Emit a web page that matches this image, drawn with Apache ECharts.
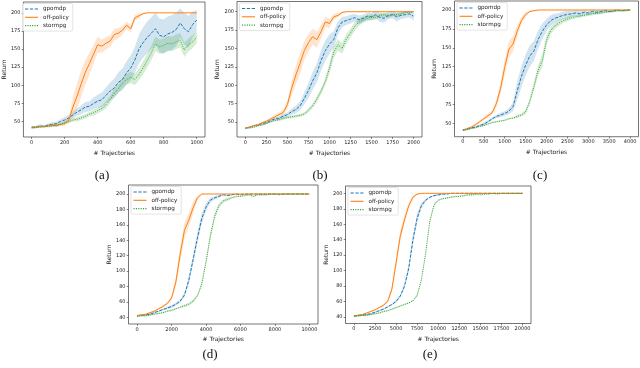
<!DOCTYPE html>
<html><head><meta charset="utf-8">
<script src="https://cdn.jsdelivr.net/npm/echarts@6/dist/echarts.min.js"></script>
<style>html,body{margin:0;padding:0;background:#fff}#c{width:640px;height:368px}</style>
</head><body><div id="c"></div>
<script>
// ---------------- data ----------------
const methods = ['gpomdp', 'off-policy', 'stormpg'];

// (a)
const xA = [0,25,50,75,100,125,150,175,200,225,250,275,300,325,350,375,400,425,450,475,500,525,550,575,600,625,650,675,700,725,750,775,800,825,850,875,900,925,950,975,1000];
const gpomdpA = [42,42,44,43,45,46,47,50,52,55,59,63,66,70,71,75,78,80,86,92,96,104,108,117,124,135,150,159,166,172,178,169,167,171,173,177,186,178,174,184,190];
const gpomdpA_sd = [2,2,2,2,2,3,3,3,4,4,5,5,6,7,7,8,9,10,11,12,13,14,15,16,17,18,20,21,22,22,22,23,24,24,24,23,20,22,22,18,14];
const offA = [42,42,43,43,44,45,44,46,47,52,70,85,102,118,130,143,156,154,158,161,170,172,176,183,178,193,196,199,200,200,200,200,200,200,200,200,200,200,200,200,200];
const offA_sd = [1,1,1,1,2,2,2,2,3,4,14,18,18,17,15,13,11,9,9,8,8,7,6,5,5,4,3,1,0,0,0,0,0,0,0,0,0,0,0,0,0];
const stormA = [41,42,42,43,43,44,45,46,48,50,52,53,55,57,60,62,65,68,73,80,89,95,103,108,111,108,115,124,134,145,157,153,155,158,157,160,162,149,156,160,167];
const stormA_sd = [1,1,1,1,1,2,2,2,2,2,2,3,3,3,3,4,4,4,5,5,6,6,7,7,8,8,8,9,9,10,10,10,10,10,10,10,10,10,9,9,8];

// (b)
const xB = [0,50,100,150,200,250,300,350,400,450,500,550,600,650,700,750,800,850,900,950,1000,1050,1100,1150,1200,1250,1300,1350,1400,1450,1500,1550,1600,1650,1700,1750,1800,1850,1900,1950,2000];
const gpomdpB = [42,43,45,46,48,49,52,54,55,58,60,64,67,72,82,93,106,117,134,147,156,162,178,186,188,190,192,189,191,194,193,196,192,191,195,196,193,195,196,197,194];
const gpomdpB_sd = [1,1,1,1,2,2,2,2,2,3,3,4,5,6,8,10,12,13,14,14,13,11,9,7,6,6,5,6,5,5,5,5,6,6,5,5,6,5,5,5,6];
const offB = [42,43,45,46,49,51,54,57,60,63,74,96,114,130,147,158,166,162,173,186,184,193,195,199,200,200,200,200,200,200,200,200,200,200,200,200,200,200,200,200,200];
const offB_sd = [1,1,1,2,2,2,2,3,3,4,6,10,13,14,13,12,11,11,9,7,6,4,3,1,0,0,0,0,0,0,0,0,0,0,0,0,0,0,0,0,0];
const stormB = [41,42,43,45,46,48,50,52,53,55,56,57,58,59,61,66,72,81,92,105,123,145,155,150,163,171,180,186,189,191,193,192,195,196,194,196,196,197,199,199,200];
const stormB_sd = [1,1,1,1,1,1,1,1,2,2,2,2,2,2,2,3,3,4,4,5,7,8,8,7,7,6,6,5,4,4,4,3,3,3,3,2,2,2,1,1,1];

// (c)
const xC = [0,100,200,300,400,500,600,700,800,900,1000,1100,1200,1300,1400,1500,1600,1700,1800,1900,2000,2100,2200,2300,2400,2500,2600,2700,2800,2900,3000,3100,3200,3300,3400,3500,3600,3700,3800,3900,4000];
const gpomdpC = [41,42,44,45,47,49,52,56,59,61,63,66,72,93,112,127,139,146,161,172,180,186,189,191,193,194,195,196,195,197,196,198,197,198,199,198,199,200,199,200,200];
const gpomdpC_sd = [1,1,1,1,1,2,2,2,2,3,3,4,6,12,14,14,14,13,12,10,8,7,6,5,5,5,4,4,4,3,3,3,3,2,2,2,2,1,1,1,1];
const offC = [41,43,45,48,52,56,60,64,76,96,124,148,155,172,186,194,198,199,200,200,200,200,200,200,200,200,200,200,200,200,200,200,200,200,200,200,200,200,200,200,200];
const offC_sd = [1,1,1,2,2,2,3,3,5,8,10,11,10,8,5,3,1,0.5,0,0,0,0,0,0,0,0,0,0,0,0,0,0,0,0,0,0,0,0,0,0,0];
const stormC = [41,42,43,44,46,47,49,51,52,53,54,56,57,59,61,65,79,99,120,133,160,173,179,183,186,188,190,191,192,193,194,195,196,196,197,198,198,199,199,199,200];
const stormC_sd = [1,1,1,1,1,1,1,1,1,1,1,1,1,2,2,3,4,6,7,8,7,5,4,4,3,3,3,2,2,2,2,2,2,2,1,1,1,1,1,1,1];

// (d)
const xD = [0,250,500,750,1000,1250,1500,1750,2000,2250,2500,2750,3000,3250,3500,3750,4000,4250,4500,4750,5000,5250,5500,5750,6000,6250,6500,6750,7000,7250,7500,7750,8000,8250,8500,8750,9000,9250,9500,9750,10000];
const gpomdpD = [42,43,43,44,46,48,50,52,54,57,61,69,88,115,143,168,183,192,195,197,199,198,199,200,199,200,200,200,200,200,200,200,200,200,200,200,200,200,200,200,200];
const gpomdpD_sd = [1,1,1,1,1,1,1,2,2,2,2,3,5,6,7,7,5,3,2,2,1,1,1,0.5,0.5,0,0,0,0,0,0,0,0,0,0,0,0,0,0,0,0];
const offD = [42,43,44,46,48,51,54,58,65,86,122,153,166,182,195,200,200,200,200,200,200,200,200,200,200,200,200,200,200,200,200,200,200,200,200,200,200,200,200,200,200];
const offD_sd = [1,1,1,1,1,1,2,2,3,6,10,10,9,8,3,0.5,0,0,0,0,0,0,0,0,0,0,0,0,0,0,0,0,0,0,0,0,0,0,0,0,0];
const stormD = [41,42,42,43,44,45,46,48,49,51,53,55,57,61,68,83,112,145,171,185,191,193,195,197,197,198,199,197,199,199,199,200,200,199,200,200,200,200,200,200,200];
const stormD_sd = [1,1,1,1,1,1,1,1,1,1,1,2,2,2,2,3,4,5,4,3,2,2,1,1,1,1,1,1,1,1,1,0.5,0.5,0.5,0.5,0.5,0.5,0.5,0.5,0.5,0.5];

// (e)
const xE = [0,500,1000,1500,2000,2500,3000,3500,4000,4500,5000,5500,6000,6500,7000,7500,8000,8500,9000,9500,10000,10500,11000,11500,12000,12500,13000,13500,14000,14500,15000,15500,16000,16500,17000,17500,18000,18500,19000,19500,20000];
const gpomdpE = [41,42,42,43,44,46,48,50,53,56,60,67,80,103,140,168,184,191,195,197,198,199,199,200,200,200,200,200,200,200,200,200,200,200,200,200,200,200,200,200,200];
const gpomdpE_sd = [1,1,1,1,1,1,1,1,1,1,2,2,3,5,6,6,4,2,1,1,1,0.5,0.5,0.3,0.3,0.3,0.3,0.3,0.3,0.3,0.3,0.3,0.3,0.3,0.3,0.3,0.3,0.3,0.3,0.3,0.3];
const offE = [41,42,43,45,47,49,52,55,60,76,110,145,166,184,195,199,200,200,200,200,200,200,200,200,200,200,200,200,200,200,200,200,200,200,200,200,200,200,200,200,200];
const offE_sd = [1,1,1,1,1,1,1,2,2,4,6,7,6,4,2,1,0,0,0,0,0,0,0,0,0,0,0,0,0,0,0,0,0,0,0,0,0,0,0,0,0];
const stormE = [41,41,42,42,43,44,45,47,48,50,52,54,56,58,61,68,88,122,164,185,191,193,194,195,196,196,197,198,198,199,198,199,199,200,199,200,200,200,200,200,200];
const stormE_sd = [1,1,1,1,1,1,1,1,1,1,1,1,1,1,1,2,2,3,3,2,1,1,1,1,1,1,1,1,1,0.5,0.5,0.5,0.5,0.5,0.5,0.5,0.5,0.5,0.5,0.5,0.5];

// tick labels
const xTicksA = [0,200,400,600,800,1000];
const xTicksB = [0,250,500,750,1000,1250,1500,1750,2000];
const xTicksC = [0,500,1000,1500,2000,2500,3000,3500,4000];
const xTicksD = [0,2000,4000,6000,8000,10000];
const xTicksE = [0,2500,5000,7500,10000,12500,15000,17500,20000];
const yTicksABC = [50,75,100,125,150,175,200];
const yTicksDE = [40,60,80,100,120,140,160,180,200];
const captions = ['(a)','(b)','(c)','(d)','(e)'];

// ---------------- styling / layout ----------------
const colors = {'gpomdp':'#1f77b4','off-policy':'#ff7f0e','stormpg':'#2ca02c'};
const bandColors = {'gpomdp':'rgba(31,119,180,0.2)','off-policy':'rgba(255,127,14,0.2)','stormpg':'rgba(44,160,44,0.2)'};
const lineTypes = {'gpomdp':[3.2,1.4],'off-policy':'solid','stormpg':[0.9,1.3]};
const icons = {
  'gpomdp':'path://M0,0H3V1H0Z M4.5,0H7.5V1H4.5Z M9,0H12V1H9Z',
  'off-policy':'path://M0,0H12V1H0Z',
  'stormpg':'path://M0,0H1V1H0Z M2.2,0H3.2V1H2.2Z M4.4,0H5.4V1H4.4Z M6.6,0H7.6V1H6.6Z M8.8,0H9.8V1H8.8Z M11,0H12V1H11Z'
};
const FONT = 'DejaVu Sans';

const panels = [
  {x:xA, data:{'gpomdp':[gpomdpA,gpomdpA_sd],'off-policy':[offA,offA_sd],'stormpg':[stormA,stormA_sd]},
   box:[20,2,185,135], xr:[-50,1050], yr:[28.5,215], xt:xTicksA, yt:yTicksABC, yGap:14, xGap:13, cap:[102,176]},
  {x:xB, data:{'gpomdp':[gpomdpB,gpomdpB_sd],'off-policy':[offB,offB_sd],'stormpg':[stormB,stormB_sd]},
   box:[237,1.5,185,135.5], xr:[-100,2100], yr:[29.6,213.9], xt:xTicksB, yt:yTicksABC, yGap:16, xGap:13, cap:[320,176]},
  {x:xC, data:{'gpomdp':[gpomdpC,gpomdpC_sd],'off-policy':[offC,offC_sd],'stormpg':[stormC,stormC_sd]},
   box:[454.5,1,184,135.7], xr:[-200,4200], yr:[32.3,211.9], xt:xTicksC, yt:yTicksABC, yGap:17, xGap:13, cap:[540,176]},
  {x:xD, data:{'gpomdp':[gpomdpD,gpomdpD_sd],'off-policy':[offD,offD_sd],'stormpg':[stormD,stormD_sd]},
   box:[128.5,185,189.5,139], xr:[-500,10500], yr:[31.3,211.7], xt:xTicksD, yt:yTicksDE, yGap:15, xGap:12.5, cap:[210,355]},
  {x:xE, data:{'gpomdp':[gpomdpE,gpomdpE_sd],'off-policy':[offE,offE_sd],'stormpg':[stormE,stormE_sd]},
   box:[345.5,186,185.5,137.5], xr:[-1000,21000], yr:[31.4,209.5], xt:xTicksE, yt:yTicksDE, yGap:13.5, xGap:12.5, cap:[430,355]}
];

const grid = [], xAxis = [], yAxis = [], series = [], legend = [], graphic = [];
const axisCommon = (ticks) => ({
  axisLine:{show:false, onZero:false}, splitLine:{show:false},
  axisTick:{show:true, length:1.8, lineStyle:{color:'#333', width:0.6}, customValues:ticks},
  axisLabel:{customValues:ticks, fontSize:5, color:'#222', fontFamily:FONT, margin:3,
    formatter:(v) => String(v)}
});

panels.forEach((p, i) => {
  grid.push({left:p.box[0], top:p.box[1], width:p.box[2], height:p.box[3], show:true,
    borderColor:'#3a3a3a', borderWidth:0.7, backgroundColor:'transparent'});
  xAxis.push(Object.assign({type:'value', gridIndex:i, min:p.xr[0], max:p.xr[1],
    name:'# Trajectories', nameLocation:'middle', nameGap:p.xGap,
    nameTextStyle:{fontSize:6, color:'#222', fontFamily:FONT}}, axisCommon(p.xt)));
  yAxis.push(Object.assign({type:'value', gridIndex:i, min:p.yr[0], max:p.yr[1],
    name:'Return', nameLocation:'middle', nameGap:p.yGap,
    nameTextStyle:{fontSize:6, color:'#222', fontFamily:FONT}}, axisCommon(p.yt)));

  methods.forEach((m, k) => {
    const mean = p.data[m][0], sd = p.data[m][1];
    // shaded +/- sd band, drawn through the axes' coordinate system
    series.push({type:'custom', name:m + ' band', xAxisIndex:i, yAxisIndex:i, silent:true, z:1, clip:true,
      data:[[p.x[0], mean[0]]],
      renderItem:(params, api) => {
        const up = p.x.map((x, j) => api.coord([x, mean[j] + sd[j]]));
        const lo = p.x.map((x, j) => api.coord([x, mean[j] - sd[j]])).reverse();
        return {type:'polygon', silent:true, shape:{points:up.concat(lo)}, style:{fill:bandColors[m], stroke:null}};
      }});
    series.push({type:'line', name:m, xAxisIndex:i, yAxisIndex:i, symbol:'none', z:2 + k,
      itemStyle:{color:colors[m]},
      lineStyle:{color:colors[m], width:1, type:lineTypes[m]},
      data:p.x.map((x, j) => [x, mean[j]])});
  });

  legend.push({left:p.box[0] + 2.5, top:p.box[1] + 1.5, orient:'vertical',
    itemWidth:13, itemHeight:1.4, itemGap:2.3, padding:[2.5,4,2.5,2.5],
    borderColor:'#d0d0d0', borderWidth:0.6, borderRadius:1.5,
    backgroundColor:'rgba(255,255,255,0.85)', selectedMode:false,
    itemStyle:{borderWidth:0},
    textStyle:{fontSize:5.6, color:'#222', fontFamily:FONT},
    data:methods.map(m => ({name:m, icon:icons[m], itemStyle:{color:colors[m], borderWidth:0}}))});

  graphic.push({type:'text', x:p.cap[0], y:p.cap[1], silent:true,
    style:{text:captions[i], font:'13px "Liberation Serif"', fill:'#111',
      align:'center', verticalAlign:'middle', textAlign:'center', textVerticalAlign:'middle'}});
});

const chart = echarts.init(document.getElementById('c'), null, {renderer:'canvas'});
chart.setOption({animation:false, backgroundColor:'#fff', grid, xAxis, yAxis, series, legend, graphic});
</script>
</body></html>
